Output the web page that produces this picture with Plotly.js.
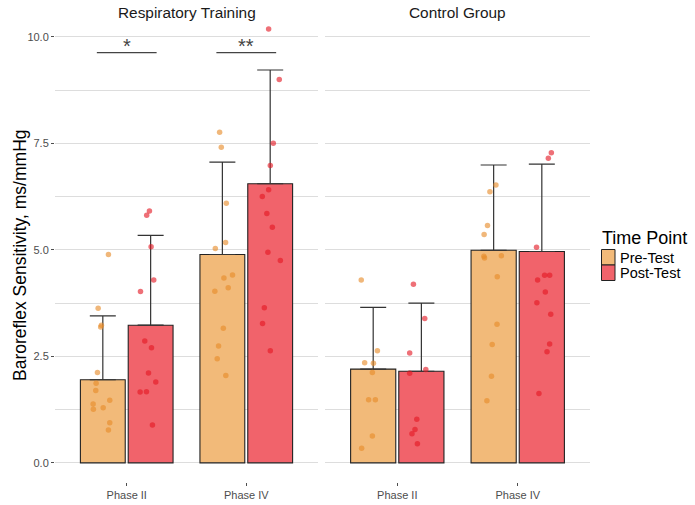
<!DOCTYPE html>
<html>
<head>
<meta charset="utf-8">
<script src="https://cdn.plot.ly/plotly-3.0.1.min.js"></script>
<style>html,body{margin:0;padding:0;background:#fff;}#chart{width:695px;height:505px;}</style>
</head>
<body>
<div id="chart"></div>
<script>
// ---- data ----
const phases = ['Phase II', 'Phase IV'];
const phasePos = [1, 2];
const groups = ['Respiratory Training', 'Control Group'];
const timePoints = ['Pre-Test', 'Post-Test'];
const legendTitle = 'Time Point';
const yTitle = 'Baroreflex Sensitivity, ms/mmHg';

// bar means
const rtPreMean = [1.95, 4.89];
const rtPostMean = [3.23, 6.55];
const cgPreMean = [2.20, 4.99];
const cgPostMean = [2.15, 4.96];
// upper end of the error bars
const rtPreUpper = [3.45, 7.06];
const rtPostUpper = [5.34, 9.22];
const cgPreUpper = [3.65, 6.99];
const cgPostUpper = [3.75, 7.01];

// individual (jittered) points
const rtPreX = [0.847,0.761,0.788,0.782,0.755,0.744,0.741,0.719,0.721,0.803,0.858,0.858,0.847,
                1.777,1.791,1.833,1.827,1.741,1.885,1.813,1.849,1.737,1.808,1.768,1.757,1.829];
const rtPreY = [4.89,3.63,3.23,3.19,2.12,1.87,1.70,1.38,1.26,1.29,1.47,0.94,0.77,
                7.76,7.41,6.09,5.17,5.03,4.41,4.34,4.11,4.03,3.16,2.74,2.44,2.05];
const rtPostX = [1.190,1.167,1.204,1.226,1.115,1.151,1.207,1.182,1.243,1.112,1.165,1.215,
                 2.187,2.276,2.226,2.201,2.187,2.134,2.172,2.218,2.181,2.285,2.151,2.136,2.201];
const rtPostY = [5.91,5.81,5.07,4.29,4.02,2.86,2.70,2.11,1.90,1.66,1.67,0.89,
                 10.18,9.00,7.50,6.98,6.41,6.25,5.85,5.53,4.94,4.75,3.64,3.27,2.63];
const cgPreX = [0.701,0.835,0.729,0.802,0.793,0.762,0.818,0.793,0.704,
                1.819,1.769,1.749,1.721,1.719,1.724,1.864,1.830,1.828,1.788,1.782,1.744];
const cgPreY = [4.29,2.63,2.35,2.34,2.12,1.48,1.48,0.63,0.34,
                6.52,6.36,5.57,5.36,4.85,4.81,4.86,4.37,3.25,2.78,2.03,1.46];
const cgPostX = [1.134,1.228,1.103,1.237,1.103,1.162,1.147,1.122,1.167,
                 2.279,2.254,2.156,2.223,2.265,2.165,2.229,2.159,2.274,2.265,2.243,2.176];
const cgPostY = [4.19,3.39,2.58,2.19,2.10,1.02,0.78,0.68,0.45,
                 7.28,7.15,5.06,4.40,4.40,4.29,4.01,3.76,3.49,2.79,2.61,1.63];

// significance marks (Respiratory Training panel)
const sigPhase = [1, 2];
const sigLabels = ['*', '**'];
const sigLevel = 9.63;

// y axis ticks
const yTicks = [0, 2.5, 5, 7.5, 10];

// ---- styles ----
const FONT = 'Liberation Sans, Arial, sans-serif';
const preFill = '#F2BA79';
const postFill = '#F1636B';
const fills = [preFill, postFill];
const prePoint = 'rgba(230,138,40,0.62)';
const postPoint = 'rgba(228,24,36,0.62)';
const outline = '#222222';

function barTrace(name, means, uppers, fill, xa, ya) {
  return {
    type: 'bar', name: name, x: phasePos, y: means,
    marker: {color: fill, line: {color: outline, width: 1.1}},
    error_y: {type: 'data', symmetric: false,
              array: uppers.map((u, i) => u - means[i]),
              arrayminus: means.map(() => 0),
              color: '#333333', thickness: 1.2, width: 13},
    xaxis: xa, yaxis: ya, showlegend: false, hoverinfo: 'skip'
  };
}
function pointTrace(name, xs, ys, col, xa, ya) {
  return {
    type: 'scatter', mode: 'markers', x: xs, y: ys, name: name,
    marker: {color: col, size: 5.5, line: {width: 0}},
    xaxis: xa, yaxis: ya, showlegend: false, hoverinfo: 'skip'
  };
}

const traces = [
  barTrace(timePoints[0], rtPreMean, rtPreUpper, preFill, 'x', 'y'),
  barTrace(timePoints[1], rtPostMean, rtPostUpper, postFill, 'x', 'y'),
  barTrace(timePoints[0], cgPreMean, cgPreUpper, preFill, 'x2', 'y2'),
  barTrace(timePoints[1], cgPostMean, cgPostUpper, postFill, 'x2', 'y2'),
  pointTrace(timePoints[0], rtPreX, rtPreY, prePoint, 'x', 'y'),
  pointTrace(timePoints[1], rtPostX, rtPostY, postPoint, 'x', 'y'),
  pointTrace(timePoints[0], cgPreX, cgPreY, prePoint, 'x2', 'y2'),
  pointTrace(timePoints[1], cgPostX, cgPostY, postPoint, 'x2', 'y2')
];

const gridCol = '#DDDDDD';
const tickFont = {family: FONT, size: 11, color: '#4D4D4D'};
const xCommon = {
  range: [0.4, 2.6], tickvals: phasePos, ticktext: phases,
  ticks: 'outside', ticklen: 3, tickcolor: '#4D4D4D', tickwidth: 1,
  showgrid: false, zeroline: false, showline: false, tickfont: tickFont,
  fixedrange: true
};
const yCommon = {
  range: [-0.45, 10.3], tickvals: yTicks, tickformat: '.1f',
  showgrid: true, gridcolor: gridCol, gridwidth: 1,
  minor: {dtick: 1.25, tick0: 0, showgrid: true, gridcolor: gridCol, gridwidth: 1, ticks: ''},
  zeroline: false, showline: false, fixedrange: true
};

const shapes = sigPhase.map(p => ({
  type: 'line', xref: 'x', yref: 'y', x0: p - 0.25, x1: p + 0.25, y0: sigLevel, y1: sigLevel,
  line: {color: '#444444', width: 1.2}
}));
const annotations = sigPhase.map((p, i) => ({
  xref: 'x', yref: 'y', x: p, y: sigLevel, text: sigLabels[i], showarrow: false,
  yanchor: 'bottom', yshift: -6,
  font: {family: FONT, size: 20, color: '#444444'}
}));
// facet strip titles
groups.forEach((g, i) => annotations.push({
  xref: (i === 0 ? 'x' : 'x2') + ' domain', yref: 'paper', x: 0.5, y: 1, yanchor: 'bottom', yshift: 1,
  text: g, showarrow: false, font: {family: FONT, size: 15.4, color: '#1A1A1A'}
}));
// y axis title
annotations.push({
  xref: 'paper', yref: 'paper', x: -0.0654, y: 0.4956, xanchor: 'center', yanchor: 'middle',
  textangle: -90, text: yTitle, showarrow: false,
  font: {family: FONT, size: 17.5, color: '#000000'}
});

// legend (drawn in paper space, to the right of the panels)
const PW = 535, PH = 458, ML = 55, MT = 24;
const px2x = v => (v - ML) / PW;
const px2y = v => 1 - (v - MT) / PH;
annotations.push({
  xref: 'paper', yref: 'paper', x: px2x(600), y: px2y(238), xanchor: 'left', yanchor: 'middle',
  text: legendTitle, showarrow: false, font: {family: FONT, size: 18, color: '#000000'}
});
const keyH = 15.5;
timePoints.forEach((t, i) => {
  const top = 249.5 + i * keyH;
  shapes.push({
    type: 'rect', xref: 'paper', yref: 'paper',
    x0: px2x(601.5), x1: px2x(615), y0: px2y(top), y1: px2y(top + keyH),
    fillcolor: fills[i], line: {color: outline, width: 1}
  });
  annotations.push({
    xref: 'paper', yref: 'paper', x: px2x(617.5), y: px2y(top + keyH / 2 + 0.5), xanchor: 'left', yanchor: 'middle',
    text: t, showarrow: false, font: {family: FONT, size: 14.5, color: '#000000'}
  });
});

const layout = {
  width: 695, height: 505,
  margin: {l: ML, r: 695 - ML - PW, t: MT, b: 505 - MT - PH, autoexpand: false},
  paper_bgcolor: '#FFFFFF', plot_bgcolor: '#FFFFFF',
  barmode: 'group', bargap: 0.2, bargroupgap: 0.0625,
  showlegend: false,
  xaxis: Object.assign({domain: [0, 0.4916], anchor: 'y'}, xCommon),
  xaxis2: Object.assign({domain: [0.5047, 1], anchor: 'y2'}, xCommon),
  yaxis: Object.assign({domain: [0, 1], anchor: 'x',
    ticks: 'outside', ticklen: 3, tickcolor: '#4D4D4D', tickfont: tickFont}, yCommon),
  yaxis2: Object.assign({domain: [0, 1], anchor: 'x2', matches: 'y', showticklabels: false, ticks: ''}, yCommon),
  shapes: shapes, annotations: annotations,
  font: {family: FONT}
};

Plotly.newPlot('chart', traces, layout, {displayModeBar: false, staticPlot: true});
</script>
</body>
</html>
